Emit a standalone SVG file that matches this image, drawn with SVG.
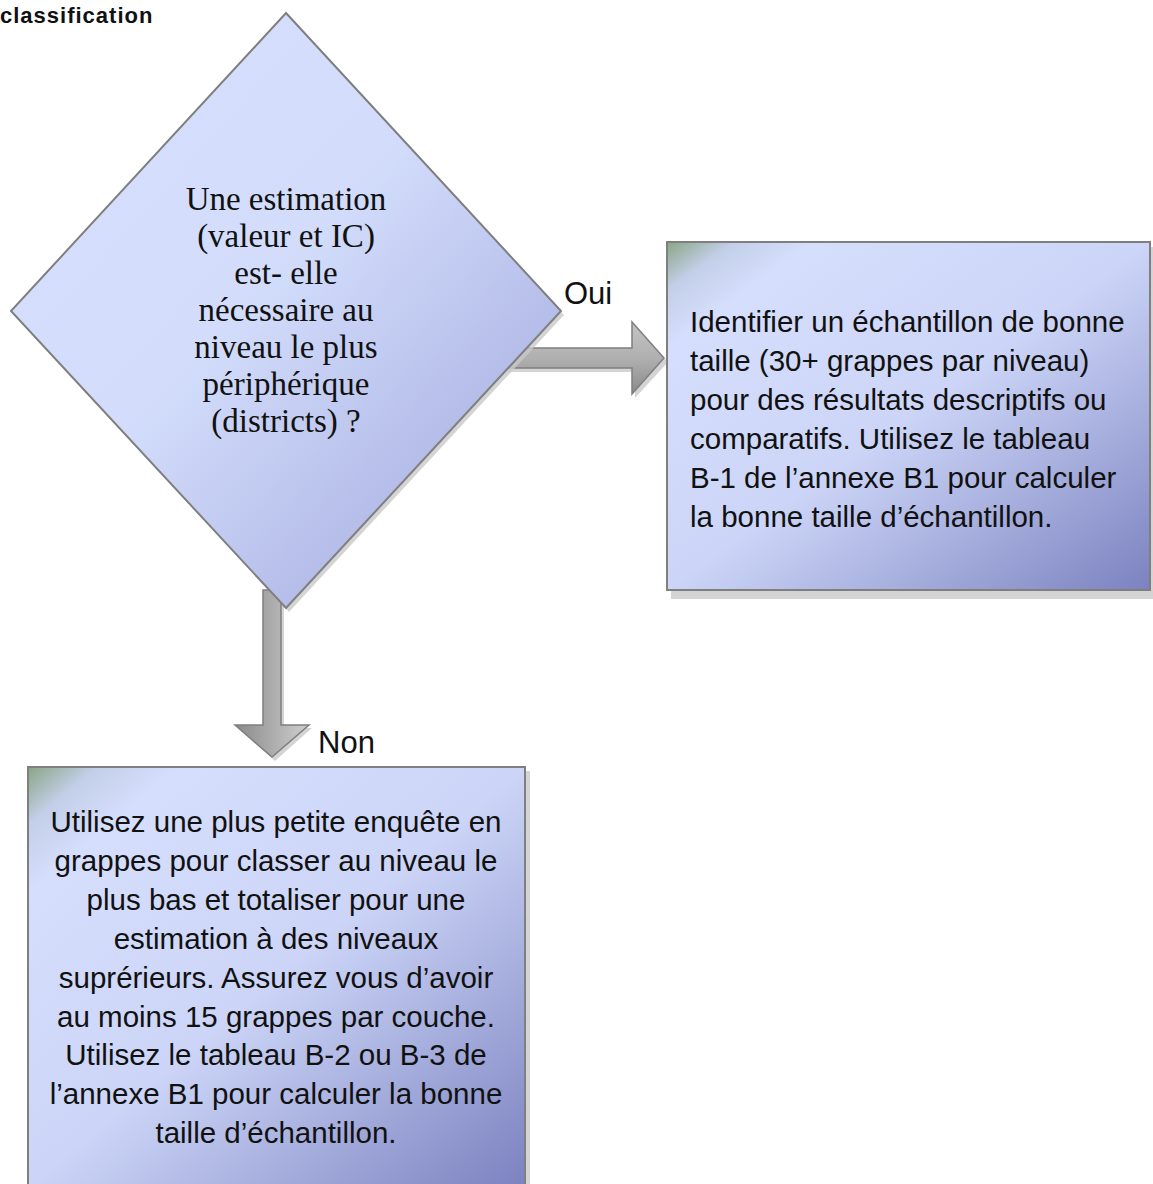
<svg xmlns="http://www.w3.org/2000/svg" width="1153" height="1184" viewBox="0 0 1153 1184">
<style>
.node{stroke:#7f7f7f;stroke-width:2}
.shadow{fill:#c9c9c9;opacity:0.8}
.serif{font-family:"Liberation Serif","Times New Roman",serif;font-size:33px;fill:#111;text-anchor:middle}
.sans{font-family:"Liberation Sans",Arial,sans-serif;font-size:29.5px;fill:#111}
.label{font-family:"Liberation Sans",Arial,sans-serif;font-size:31px;fill:#111}
.mid{text-anchor:middle}
.arrow{stroke:#7f7f7f;stroke-width:1.5;stroke-linejoin:miter}
</style>
<defs>
<linearGradient id="gDiamond" x1="0" y1="0" x2="1" y2="1">
<stop offset="0" stop-color="#d6e0fe"/>
<stop offset="0.45" stop-color="#d3ddfb"/>
<stop offset="1" stop-color="#9ca3da"/>
</linearGradient>
<linearGradient id="gBox" x1="0" y1="0" x2="1" y2="1">
<stop offset="0" stop-color="#8aa585"/>
<stop offset="0.07" stop-color="#c3cfe8"/>
<stop offset="0.15" stop-color="#d5defc"/>
<stop offset="0.5" stop-color="#ccd5f7"/>
<stop offset="1" stop-color="#7b82c0"/>
</linearGradient>
<linearGradient id="gArrowH" x1="0" y1="0" x2="0" y2="1">
<stop offset="0" stop-color="#c4c4c4"/>
<stop offset="0.5" stop-color="#b0b0b0"/>
<stop offset="1" stop-color="#8a8a8a"/>
</linearGradient>
<linearGradient id="gArrowV" x1="0" y1="0" x2="1" y2="0">
<stop offset="0" stop-color="#8a8a8a"/>
<stop offset="0.5" stop-color="#acacac"/>
<stop offset="1" stop-color="#cfcfcf"/>
</linearGradient>
</defs>

<g id="title">
<text x="0" y="23" font-family="'Liberation Sans',Arial,sans-serif" font-weight="bold" font-size="22px" letter-spacing="1" fill="#111">classification</text>
</g>

<g id="connectors">
<polygon class="shadow" points="508,352 635,352 635,326 668,362 635,398 635,372 508,372"/>
<polygon class="arrow" fill="url(#gArrowH)" points="505,348 632,348 632,322 664,358 632,394 632,368 505,368"/>
<polygon class="shadow" points="266,593 284,593 284,728 312,728 275,761 238,728 266,728"/>
<polygon class="arrow" fill="url(#gArrowV)" points="263,590 281,590 281,725 309,725 272,757 235,725 263,725"/>
<text class="label" x="564" y="304">Oui</text>
<text class="label" x="318" y="753">Non</text>
</g>

<g id="decision">
<polygon class="shadow" points="289,17 564,315 289,612 14,315"/>
<polygon class="node" fill="url(#gDiamond)" points="286,13 561,311 286,608 11,311"/>
<text class="serif" x="286" y="210">Une estimation</text>
<text class="serif" x="286" y="247">(valeur et IC)</text>
<text class="serif" x="286" y="284">est- elle</text>
<text class="serif" x="286" y="321">nécessaire au</text>
<text class="serif" x="286" y="358">niveau le plus</text>
<text class="serif" x="286" y="395">périphérique</text>
<text class="serif" x="286" y="432">(districts) ?</text>
</g>

<g id="box-oui">
<rect class="shadow" x="671" y="247" width="486" height="352"/>
<rect class="node" fill="url(#gBox)" x="667" y="242" width="483" height="348"/>
<text class="sans" x="690" y="332">Identifier un échantillon de bonne</text>
<text class="sans" x="690" y="371">taille (30+ grappes par niveau)</text>
<text class="sans" x="690" y="410">pour des résultats descriptifs ou</text>
<text class="sans" x="690" y="449">comparatifs. Utilisez le tableau</text>
<text class="sans" x="690" y="488">B-1 de l’annexe B1 pour calculer</text>
<text class="sans" x="690" y="527">la bonne taille d’échantillon.</text>
</g>

<g id="box-non">
<rect class="shadow" x="32" y="771" width="498" height="420"/>
<rect class="node" fill="url(#gBox)" x="28" y="767" width="497" height="420"/>
<text class="sans mid" x="276" y="832">Utilisez une plus petite enquête en</text>
<text class="sans mid" x="276" y="871">grappes pour classer au niveau le</text>
<text class="sans mid" x="276" y="910">plus bas et totaliser pour une</text>
<text class="sans mid" x="276" y="949">estimation à des niveaux</text>
<text class="sans mid" x="276" y="988">suprérieurs. Assurez vous d’avoir</text>
<text class="sans mid" x="276" y="1027">au moins 15 grappes par couche.</text>
<text class="sans mid" x="276" y="1065">Utilisez le tableau B-2 ou B-3 de</text>
<text class="sans mid" x="276" y="1104">l’annexe B1 pour calculer la bonne</text>
<text class="sans mid" x="276" y="1143">taille d’échantillon.</text>
</g>
</svg>
